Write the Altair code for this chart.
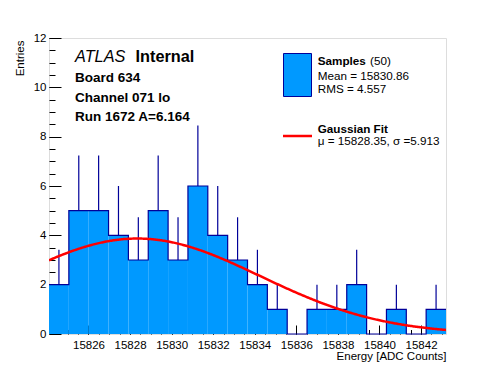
import altair as alt
import numpy as np
import pandas as pd

# ---- data ----
X_MIN = 15824.1
X_MAX = 15843.2
N_BINS = 20
counts = [2, 5, 5, 4, 3, 5, 3, 6, 4, 3, 2, 1, 0, 1, 1, 2, 0, 1, 0, 1]
x_ticks = [15826, 15828, 15830, 15832, 15834, 15836, 15838, 15840, 15842]
y_ticks = [0, 2, 4, 6, 8, 10, 12]
FIT_MU = 15828.35
FIT_SIGMA = 5.913
FIT_CONST = 3.87

header_lines = ["Board 634", "Channel 071 lo", "Run 1672 A=6.164"]
legend_lines = ["Mean = 15830.86", "RMS = 4.557"]
fit_line = "\u03bc = 15828.35, \u03c3 =5.913"

FILL = "#0099ff"
NAVY = "#000099"
FONT = "Liberation Sans"
W, H = 397, 296

bw = (X_MAX - X_MIN) / N_BINS
edges = X_MIN + bw * np.arange(N_BINS + 1)
hist = pd.DataFrame({"lo": edges[:-1], "hi": edges[1:], "n": counts})
hist["c"] = (hist.lo + hist.hi) / 2
hist["up"] = hist.n + np.sqrt(hist.n)
errs = hist[hist.n > 0]
step = pd.DataFrame({"x": edges, "n": counts + [counts[-1]]})


def xs():
    return alt.Scale(domain=[X_MIN, X_MAX], nice=False, zero=False)


def ys():
    return alt.Scale(domain=[0, 12], nice=False, zero=True)


x_minor = [float(v) for v in np.arange(15824.5, 15843.01, 0.5)]
y_minor = [float(v) for v in np.arange(0, 12.01, 0.5)]

ax_x_lab = alt.Axis(orient="bottom", values=x_ticks, format="d", ticks=False, domain=False,
                    grid=False, labelPadding=5, labelFont=FONT, labelFontSize=11.5,
                    labelColor="black", title="Energy [ADC Counts]", titleFont=FONT,
                    titleFontSize=11.5, titleFontWeight="normal", titleColor="black",
                    titleAnchor="end", titleAlign="right", titleX=W, titleY=25,
                    titleBaseline="alphabetic")
ax_y_lab = alt.Axis(orient="left", values=y_ticks, ticks=False, domain=False, grid=False,
                    labelPadding=3, labelFont=FONT, labelFontSize=11.5, labelColor="black",
                    title="Entries", titleFont=FONT, titleFontSize=11.5,
                    titleFontWeight="normal", titleColor="black", titleAngle=270,
                    titleX=-25.5, titleY=2, titleAlign="right", titleBaseline="alphabetic")
ax_x_maj = alt.Axis(orient="bottom", values=x_ticks, labels=False, domain=False, grid=False,
                    ticks=True, tickSize={"expr": "-9"}, tickColor="black", title=None)
ax_y_maj = alt.Axis(orient="left", values=y_ticks, labels=False, domain=False, grid=False,
                    ticks=True, tickSize={"expr": "-12"}, tickColor="black", title=None)
ax_x_min = alt.Axis(orient="bottom", values=x_minor, labels=False, domain=False, grid=False,
                    ticks=True, tickSize={"expr": "-4.5"}, tickColor="black", title=None)
ax_y_min = alt.Axis(orient="left", values=y_minor, labels=False, domain=False, grid=False,
                    ticks=True, tickSize={"expr": "-6"}, tickColor="black", title=None)

bars = alt.Chart(hist).mark_rect(fill=FILL, stroke=None).encode(
    x=alt.X("lo:Q", scale=xs(), axis=ax_x_lab), x2="hi:Q",
    y=alt.Y("n:Q", scale=ys(), axis=ax_y_lab), y2=alt.datum(0))

outline = alt.Chart(step).mark_line(interpolate="step-after", color=NAVY, strokeWidth=1.2).encode(
    x=alt.X("x:Q", scale=xs(), axis=ax_x_maj),
    y=alt.Y("n:Q", scale=ys(), axis=ax_y_maj))

errbars = alt.Chart(errs).mark_rule(color=NAVY, strokeWidth=1.2).encode(
    x=alt.X("c:Q", scale=xs(), axis=ax_x_min),
    y=alt.Y("n:Q", scale=ys(), axis=ax_y_min), y2="up:Q")

gauss = alt.Chart(alt.sequence(X_MIN, X_MAX + 0.001, 0.05, as_="x")).transform_calculate(
    g=f"{FIT_CONST}*exp(-0.5*pow((datum.x-{FIT_MU})/{FIT_SIGMA},2))"
).mark_line(color="#ff0000", strokeWidth=2.5, clip=True).encode(
    x=alt.X("x:Q", scale=xs(), axis=None), y=alt.Y("g:Q", scale=ys(), axis=None))


def txt(text, x, y, size, weight="normal", style="normal", align="left"):
    return alt.Chart(pd.DataFrame({"t": [text]})).mark_text(
        font=FONT, fontSize=size, fontWeight=weight, fontStyle=style, align=align,
        baseline="alphabetic", color="black").encode(
        text="t:N", x=alt.value(x), y=alt.value(y))


texts = [
    txt("ATLAS", 26, 24.3, 16.3, style="italic"),
    txt("Internal", 86.5, 24.3, 16.3, weight="bold"),
]
for i, line in enumerate(header_lines):
    texts.append(txt(line, 26, 44 + 19.5 * i, 13.5, weight="bold"))

leg_rect = alt.Chart(pd.DataFrame({"a": [0]})).mark_rect(fill=FILL, stroke=NAVY, strokeWidth=1).encode(
    x=alt.value(234.5), x2=alt.value(262.5), y=alt.value(15.5), y2=alt.value(58.5))
leg_line = alt.Chart(pd.DataFrame({"a": [0]})).mark_rule(color="#ff0000", strokeWidth=2.5).encode(
    x=alt.value(234), x2=alt.value(263), y=alt.value(98))
texts += [
    txt("Samples", 268.7, 27, 11.7, weight="bold"),
    txt("(50)", 321, 27, 11.7),
    txt(legend_lines[0], 268.7, 42, 11.7),
    txt(legend_lines[1], 268.7, 55.3, 11.7),
    txt("Gaussian Fit", 268.7, 94.7, 11.7, weight="bold"),
    txt(fit_line, 268.7, 106.5, 11.7),
]

chart = alt.layer(bars, outline, errbars, gauss, leg_rect, leg_line, *texts).resolve_scale(
    x="independent", y="independent"
).resolve_axis(
    x="independent", y="independent"
).properties(
    width=W, height=H, autosize="none",
    padding={"left": 41, "top": 30, "right": 40, "bottom": 28}
).configure_view(stroke="black", strokeWidth=1).configure(background="white")

chart.save("out.html", embed_options={"renderer": "svg", "actions": False})
